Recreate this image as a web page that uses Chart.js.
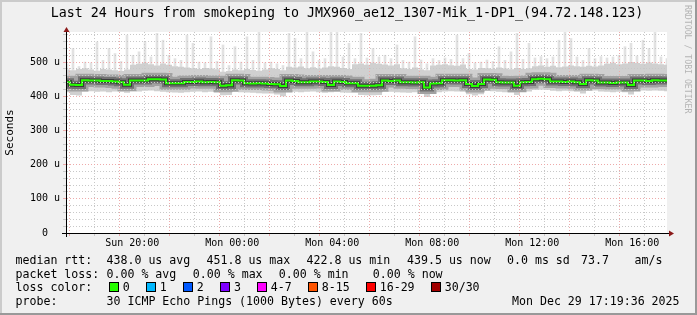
<!DOCTYPE html>
<html>
<head>
<meta charset="utf-8">
<script src="https://cdn.jsdelivr.net/npm/chart.js@4/dist/chart.umd.min.js"></script>
<style>
  html, body { margin: 0; padding: 0; background: #f0f0f0; }
  #wrap { position: relative; width: 697px; height: 315px; overflow: hidden; }
  #c { position: absolute; left: 0; top: 0; }
  .t { position: absolute; font-family: "DejaVu Sans Mono", monospace; font-size: 11.6px;
       line-height: 14px; white-space: pre; color: #000; }
  .title { position: absolute; left: 0; top: 5px; width: 694px; text-align: center;
           font-family: "DejaVu Sans Mono", monospace; font-size: 13.3px; line-height: 16px;
           white-space: pre; color: #000; }
  .box { position: absolute; top: 282px; width: 8px; height: 8px; border: 1px solid #000; }
  .rrd { position: absolute; left: 683px; top: 5px; writing-mode: vertical-rl;
         font-family: "DejaVu Sans Mono", monospace; font-size: 8.2px; line-height: 10px;
         color: #b4b4b4; white-space: pre; }
</style>
</head>
<body>
<div id="wrap">
  <canvas id="c" width="697" height="315"></canvas>
  <div class="title">Last 24 Hours from smokeping to JMX960_ae12_1307-Mik_1-DP1_(94.72.148.123)</div>
  <div class="rrd">RRDTOOL / TOBI OETIKER</div>

  <div class="t" style="left:15.5px;top:252.5px">median rtt:</div>
  <div class="t" style="left:106.5px;top:252.5px">438.0 us avg</div>
  <div class="t" style="left:206.5px;top:252.5px">451.8 us max</div>
  <div class="t" style="left:306.5px;top:252.5px">422.8 us min</div>
  <div class="t" style="left:407px;top:252.5px">439.5 us now</div>
  <div class="t" style="left:507px;top:252.5px">0.0 ms sd</div>
  <div class="t" style="left:581px;top:252.5px">73.7</div>
  <div class="t" style="left:634.5px;top:252.5px">am/s</div>

  <div class="t" style="left:15.5px;top:266.5px">packet loss:</div>
  <div class="t" style="left:106.5px;top:266.5px">0.00 % avg</div>
  <div class="t" style="left:192.8px;top:266.5px">0.00 % max</div>
  <div class="t" style="left:278.8px;top:266.5px">0.00 % min</div>
  <div class="t" style="left:372.8px;top:266.5px">0.00 % now</div>

  <div class="t" style="left:15.5px;top:280px">loss color:</div>
  <div id="lossLegend"></div>

  <div class="t" style="left:15.5px;top:294px">probe:</div>
  <div class="t" style="left:106.5px;top:294px">30 ICMP Echo Pings (1000 Bytes) every 60s</div>
  <div class="t" style="left:512px;top:294px">Mon Dec 29 17:19:36 2025</div>
</div>
<script>
// time axis: hours since Sun 00:00, one sample every 14.4 minutes
const startHour = 17.39;
const stepHours = 0.24;

// median rtt (us)
const median = [
  441, 434, 433, 447, 446, 446, 445, 445, 443, 441,
  434, 446, 446, 446, 450, 450, 449, 438, 438, 438,
  442, 442, 443, 441, 442, 441, 431, 432, 447, 446,
  438, 437, 438, 437, 436, 435, 430, 446, 445, 441,
  441, 443, 443, 442, 433, 443, 442, 438, 438, 431,
  431, 431, 432, 446, 445, 446, 441, 441, 440, 441,
  426, 437, 438, 447, 447, 446, 447, 436, 430, 436,
  449, 448, 441, 440, 440, 431, 441, 442, 450, 451,
  450, 443, 443, 442, 443, 441, 436, 447, 446, 440,
  440, 439, 440, 440, 433, 446, 446, 445, 447, 446,
  446
];
// smoke: lower and upper edge of the bulk of the pings (us)
const smokeLo = [
  412, 404, 402, 414, 415, 413, 414, 412, 414, 413,
  410, 415, 414, 416, 417, 415, 413, 412, 411, 410,
  412, 413, 414, 412, 413, 411, 403, 404, 414, 412,
  411, 410, 409, 408, 408, 405, 400, 414, 413, 412,
  413, 414, 412, 410, 412, 413, 411, 410, 410, 404,
  403, 403, 404, 414, 413, 412, 411, 410, 412, 411,
  398, 408, 412, 414, 415, 414, 413, 406, 402, 406,
  416, 415, 413, 412, 411, 404, 413, 414, 418, 419,
  418, 416, 415, 416, 415, 413, 408, 416, 417, 414,
  413, 412, 413, 412, 405, 416, 417, 416, 417, 416,
  415
];
const smokeHi = [
  478, 476, 480, 482, 478, 475, 480, 478, 476, 474,
  478, 492, 495, 498, 494, 490, 496, 492, 488, 486,
  484, 482, 480, 483, 481, 479, 472, 474, 478, 476,
  480, 477, 475, 478, 482, 480, 476, 486, 484, 487,
  482, 485, 481, 484, 488, 486, 483, 480, 494, 496,
  492, 498, 495, 493, 490, 494, 482, 480, 484, 478,
  476, 490, 492, 494, 491, 489, 493, 480, 478, 483,
  482, 480, 484, 481, 479, 483, 480, 482, 488, 490,
  486, 489, 485, 487, 490, 488, 486, 489, 487, 490,
  495, 498, 494, 496, 500, 497, 495, 499, 496, 494,
  492
];
// slowest ping of each sample (us)
const smokeMax = [
  495, 540, 487, 500, 498, 559, 505, 540, 525, 502,
  579, 520, 530, 559, 515, 584, 564, 520, 510, 505,
  579, 555, 500, 498, 574, 502, 550, 490, 545, 500,
  574, 505, 588, 498, 500, 495, 490, 584, 569, 510,
  588, 530, 505, 510, 588, 588, 515, 555, 510, 584,
  512, 540, 515, 520, 510, 550, 505, 500, 574, 506,
  495, 510, 505, 512, 508, 579, 510, 525, 498, 500,
  506, 502, 545, 505, 530, 584, 508, 555, 512, 516,
  510, 515, 564, 588, 569, 515, 505, 540, 510, 516,
  512, 515, 520, 545, 555, 518, 564, 540, 588, 515,
  510
];

const xLabelHours = [20, 24, 28, 32, 36, 40];
const xLabelText = ['Sun 20:00', 'Mon 00:00', 'Mon 04:00', 'Mon 08:00', 'Mon 12:00', 'Mon 16:00'];
const yLabelValues = [0, 100, 200, 300, 400, 500];
const yLabelText = ['0  ', '100 u', '200 u', '300 u', '400 u', '500 u'];

const lossLabels = ['0', '1', '2', '3', '4-7', '8-15', '16-29', '30/30'];
const lossColors = ['#26ff00', '#00b8ff', '#0059ff', '#7e00ff', '#ff00ff', '#ff5500', '#ff0000', '#a10000'];
const lossBoxX = [108.7, 145.7, 182.7, 220, 256.7, 307.7, 365.7, 430.7];

// loss colour legend
const lossDiv = document.getElementById('lossLegend');
lossLabels.forEach(function (lab, i) {
  const b = document.createElement('div');
  b.className = 'box';
  b.style.left = lossBoxX[i] + 'px';
  b.style.background = lossColors[i];
  lossDiv.appendChild(b);
  const t = document.createElement('div');
  t.className = 't';
  t.style.left = (lossBoxX[i] + 14) + 'px';
  t.style.top = '280px';
  t.textContent = lab;
  lossDiv.appendChild(t);
});

const times = median.map((v, i) => startHour + i * stepHours);
const pts = arr => arr.map((v, i) => ({ x: times[i], y: v }));

const hourTicks = [];
for (let h = Math.ceil(startHour); h <= startHour + 24; h++) hourTicks.push(h);
const yTicks = [];
for (let v = 0; v <= 580; v += 20) yTicks.push(v);

const MAJ = '#eeaaaa';
const MIN = '#c8c8c8';
const mono = 'DejaVu Sans Mono';

const rrdFrame = {
  id: 'rrdFrame',
  beforeDraw(chart) {
    const { ctx, chartArea: a, width: w, height: h } = chart;
    ctx.save();
    ctx.fillStyle = '#f0f0f0';
    ctx.fillRect(0, 0, w, h);
    ctx.fillStyle = '#ffffff';
    ctx.fillRect(a.left, a.top, a.right - a.left, a.bottom - a.top);
    ctx.fillStyle = '#cbcbcb';
    ctx.fillRect(0, 0, w, 2);
    ctx.fillRect(0, 0, 2, h);
    ctx.fillStyle = '#999999';
    ctx.fillRect(0, h - 2, w, 2);
    ctx.fillRect(w - 2, 0, 2, h);
    ctx.restore();
  },
  afterDraw(chart) {
    const { ctx, chartArea: a } = chart;
    ctx.save();
    ctx.strokeStyle = '#000';
    ctx.lineWidth = 1;
    ctx.beginPath();
    ctx.moveTo(62, a.bottom + 0.5);
    ctx.lineTo(a.right + 3, a.bottom + 0.5);
    ctx.moveTo(a.left - 0.5, a.bottom + 4);
    ctx.lineTo(a.left - 0.5, a.top - 2);
    ctx.stroke();
    ctx.fillStyle = '#8b1a1a';
    ctx.beginPath();
    ctx.moveTo(a.right + 2, a.bottom - 2.5);
    ctx.lineTo(a.right + 7, a.bottom + 0.5);
    ctx.lineTo(a.right + 2, a.bottom + 3.5);
    ctx.closePath();
    ctx.fill();
    ctx.beginPath();
    ctx.moveTo(a.left - 3.5, a.top);
    ctx.lineTo(a.left - 0.5, a.top - 5);
    ctx.lineTo(a.left + 2.5, a.top);
    ctx.closePath();
    ctx.fill();
    ctx.restore();
  }
};

const lineBase = { pointRadius: 0, stepped: 'middle', clip: 0, fill: false, tension: 0 };

new Chart(document.getElementById('c'), {
  type: 'line',
  data: {
    datasets: [
      Object.assign({}, lineBase, { data: pts(median), borderColor: '#26ff00', borderWidth: 2 }),
      Object.assign({}, lineBase, { data: pts(median), borderColor: '#3a3a3a', borderWidth: 4 }),
      Object.assign({}, lineBase, { data: pts(median), borderColor: '#717171', borderWidth: 8 }),
      Object.assign({}, lineBase, { data: pts(median), borderColor: '#a2a2a2', borderWidth: 13 }),
      Object.assign({}, lineBase, { data: pts(smokeHi), borderColor: 'rgba(0,0,0,0)', borderWidth: 0,
        backgroundColor: '#d0d0d0', fill: 5 }),
      Object.assign({}, lineBase, { data: pts(smokeLo), borderColor: 'rgba(0,0,0,0)', borderWidth: 0 }),
      {
        type: 'bar',
        data: smokeMax.map((v, i) => ({ x: times[i], y: [smokeHi[i], v] })),
        backgroundColor: '#e2e2e2',
        barThickness: 2,
        clip: 0
      }
    ]
  },
  options: {
    responsive: false,
    animation: false,
    events: [],
    layout: { padding: { left: 0, top: 32, right: 30, bottom: 0 } },
    plugins: { legend: { display: false }, tooltip: { enabled: false } },
    scales: {
      x: {
        type: 'linear',
        min: startHour,
        max: startHour + 24,
        offset: false,
        afterBuildTicks: s => { s.ticks = hourTicks.map(v => ({ value: v })); },
        afterFit: s => { s.height = 82; },
        grid: {
          z: 1,
          color: c => (c.tick && c.tick.value % 2 === 0) ? MAJ : MIN,
          tickLength: 3
        },
        border: { display: false, dash: [1, 2] },
        ticks: {
          autoSkip: false, maxRotation: 0, padding: 1, color: '#000',
          font: { family: mono, size: 10 },
          callback: v => { const k = xLabelHours.indexOf(v); return k < 0 ? '' : xLabelText[k]; }
        }
      },
      y: {
        min: 0,
        max: 588,
        afterBuildTicks: s => { s.ticks = yTicks.map(v => ({ value: v })); },
        afterFit: s => { s.width = 67; },
        grid: {
          z: 1,
          color: c => (c.tick && c.tick.value % 100 === 0) ? MAJ : MIN,
          tickLength: 4
        },
        border: { display: false, dash: [1, 2] },
        ticks: {
          autoSkip: false, padding: 3, color: '#000',
          font: { family: mono, size: 10 },
          callback: v => { const k = yLabelValues.indexOf(v); return k < 0 ? '' : yLabelText[k]; }
        },
        title: {
          display: true, text: 'Seconds', color: '#000',
          font: { family: mono, size: 11 },
          padding: { top: 4, bottom: 0 }
        }
      }
    }
  },
  plugins: [rrdFrame]
});
</script>
</body>
</html>
